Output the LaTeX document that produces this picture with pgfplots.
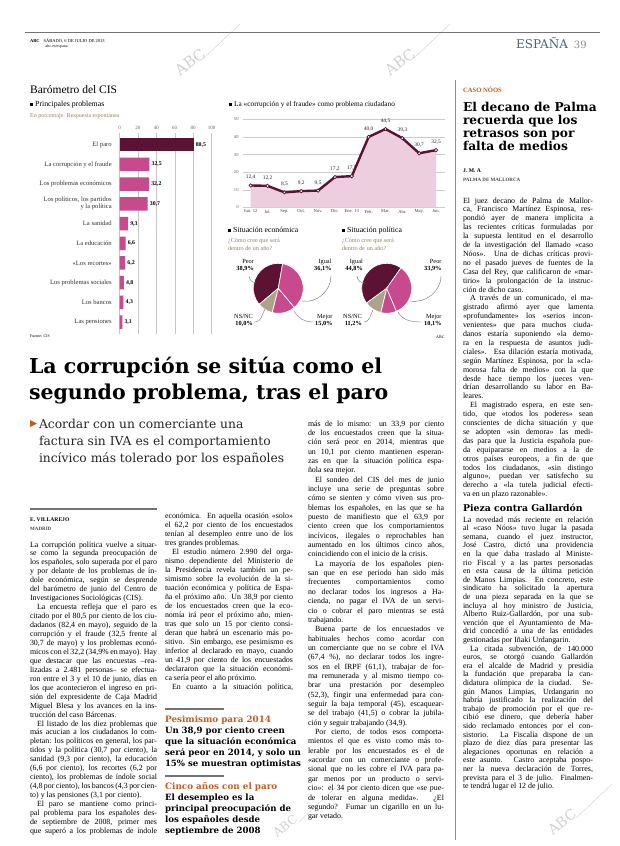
\documentclass[border=0pt]{standalone}
\usepackage{pgfplots}
\pgfplotsset{compat=1.18}
\usepackage{fontspec}
\setmainfont{Liberation Serif}
\newfontfamily\hf{DejaVu Serif}
\definecolor{maroon}{RGB}{92,18,50}
\definecolor{pinkb}{RGB}{198,74,140}
\definecolor{tanc}{RGB}{172,164,138}
\definecolor{areac}{RGB}{236,206,222}
\definecolor{subc}{RGB}{150,130,100}
\definecolor{orangec}{RGB}{196,92,32}
\definecolor{slate}{RGB}{70,100,125}
\newlength{\cw}
\newcommand{\JL}[1]{\hbox to \cw{#1}}
\newcommand{\EL}[1]{\hbox to \cw{#1\hfil}}
\newcommand{\IL}[1]{\hbox to \cw{\hskip 7pt #1}}
\newcommand{\Col}[5]{\node[anchor=base west,inner sep=0pt,outer sep=0pt] at (#1pt,-#2pt) {\setlength{\cw}{#3pt}\fontsize{7.9}{#4}\selectfont\vtop{\baselineskip=#4pt\relax #5}};}
\newcommand{\Tx}[5]{\node[anchor=base west,inner sep=0pt,outer sep=0pt] at (#1pt,-#2pt) {#3\vtop{\baselineskip=#4pt\relax #5}};}
\newcommand{\WM}[3]{\node[rotate=38,text=black!18,font=\hf\fontsize{#3}{#3}\selectfont] at (#1pt,-#2pt) {ABC};\draw[black!18,line width=0.4pt] (#1pt+14pt,-#2pt+4pt) -- (#1pt+50pt,-#2pt+38pt);}
\begin{document}
\begin{tikzpicture}
\path[use as bounding box,fill=white] (0,0) rectangle (620pt,-846pt);
% watermarks
\WM{190}{62}{15}\WM{400}{62}{15}\WM{285}{826}{12}\WM{562}{822}{14}
% header
\draw[black!55,line width=1.2pt] (25pt,-32.5pt) -- (600pt,-32.5pt);
\node[anchor=base west,inner sep=0pt] at (30pt,-42pt) {\fontsize{4.5}{5}\selectfont\bfseries ABC\hspace{4pt}\mdseries SÁBADO, 6 DE JULIO DE 2013};
\node[anchor=base west,inner sep=0pt] at (45.5pt,-47.5pt) {\fontsize{4}{5}\selectfont abc.es/espana};
\node[anchor=base west,inner sep=0pt] at (516pt,-48pt) {\hf\fontsize{12}{12}\selectfont\color{slate}ESPAÑA\hspace{6pt}\color{black!45}\fontsize{10}{10}\selectfont 39};
\draw[black!45,line width=0.6pt] (455pt,-80pt) -- (455pt,-840pt);
% chart titles
\node[anchor=base west,inner sep=0pt] at (30pt,-93pt) {\fontsize{11.5}{12}\selectfont Barómetro del CIS};
\node[anchor=base west,inner sep=0pt] at (30pt,-106pt) {\fontsize{7.8}{8}\selectfont\rule{3pt}{3pt}\hspace{2pt}Principales problemas};
\node[anchor=base west,inner sep=0pt] at (30pt,-117.5pt) {\fontsize{6}{6}\selectfont\color{subc}En porcentaje. Respuesta espontánea};
\node[anchor=base west,inner sep=0pt] at (229pt,-106pt) {\fontsize{7.3}{8}\selectfont\rule{3pt}{3pt}\hspace{2pt}La «corrupción y el fraude» como problema ciudadano};
\node[anchor=base west,inner sep=0pt] at (30pt,-337pt) {\fontsize{4}{4}\selectfont Fuente: CIS};
\node[anchor=base west,inner sep=0pt] at (436pt,-338pt) {\fontsize{4}{4}\selectfont ABC};
% bar chart
\begin{axis}[at={(119.5pt,-132.9pt)},anchor=north west,scale only axis,width=92pt,height=201pt,
 xbar,bar width=13.5pt,bar shift=0pt,xmin=0,xmax=100,ymin=-0.6,ymax=9.6,y dir=reverse,
 xtick={0,20,...,100},xticklabel pos=upper,xmajorgrids,grid style={black!22,line width=0.4pt},
 axis line style={draw=none},tick style={draw=none},
 ytick={0,...,9},yticklabels={El paro,La corrupción y el fraude,Los problemas económicos,{Los políticos, los partidos\\y la política},La sanidad,La educación,«Los recortes»,Los problemas sociales,Los bancos,Las pensiones},
 yticklabel style={align=right,font=\fontsize{6.6}{7}\selectfont,text=black!80},
 xticklabel style={font=\fontsize{5}{5}\selectfont,text=black!60},
 /pgf/number format/assume math mode=true,
 point meta=x,nodes near coords={\pgfmathprintnumber[use comma,fixed,fixed zerofill,precision=1]{\pgfplotspointmeta}},
 nodes near coords style={font=\bfseries\fontsize{5.8}{6}\selectfont,anchor=west,inner sep=2pt},clip=false]
\addplot[fill=maroon,draw=none] coordinates {(80.5,0)};
\addplot[fill=pinkb,draw=none] coordinates {(32.5,1) (32.2,2) (30.7,3) (9.3,4) (6.6,5) (6.2,6) (4.8,7) (4.3,8) (3.1,9)};
\end{axis}
% line chart
\begin{axis}[at={(243.1pt,-207.3pt)},anchor=south west,scale only axis,width=202.2pt,height=88pt,
 xmin=-0.45,xmax=11.55,ymin=0,ymax=50,ytick={0,10,...,50},ymajorgrids,grid style={black!20,line width=0.4pt},
 xtick={0,...,11},xticklabels={Jun. 12,Jul.,Sep.,Oct.,Nov.,Dic.,Ene. 13,Feb.,Mar.,Abr.,May.,Jun.},
 axis line style={draw=none},tick style={draw=none},clip=false,
 /pgf/number format/assume math mode=true,
 xticklabel style={font=\fontsize{4.6}{5}\selectfont,text=black!75,yshift=1pt},
 yticklabel style={font=\fontsize{4.6}{5}\selectfont,text=black!60,xshift=-1pt}]
\addplot[fill=areac,draw=none,forget plot] coordinates {(0,12.4) (1,12.2) (2,8.5) (3,9.2) (4,9.5) (5,17.2) (6,17.7) (7,40.0) (8,44.5) (9,39.3) (10,30.7) (11,32.5)} \closedcycle;
\addplot[maroon,line width=2.4pt,mark=*,mark size=1.7pt,mark options={fill=white,draw=maroon,line width=0.7pt},
 point meta=y,nodes near coords={\pgfmathprintnumber[use comma,fixed,fixed zerofill,precision=1]{\pgfplotspointmeta}},
 nodes near coords style={font=\fontsize{5.4}{6}\selectfont,text=black!85,anchor=south,yshift=2pt}]
 coordinates {(0,12.4) (1,12.2) (2,8.5) (3,9.2) (4,9.5) (5,17.2) (6,17.7) (7,40.0) (8,44.5) (9,39.3) (10,30.7) (11,32.5)};
\end{axis}
% pie titles
\node[anchor=base west,inner sep=0pt] at (228pt,-232pt) {\fontsize{7.8}{8}\selectfont\rule{3pt}{3pt}\hspace{2pt}Situación económica};
\Tx{228}{242}{\fontsize{6.2}{7}\selectfont\color{subc}}{8.2}{\hbox{¿Cómo cree que será}\hbox{dentro de un año?}}
\node[anchor=base west,inner sep=0pt] at (342pt,-232pt) {\fontsize{7.8}{8}\selectfont\rule{3pt}{3pt}\hspace{2pt}Situación política};
\Tx{342}{242}{\fontsize{6.2}{7}\selectfont\color{subc}}{8.2}{\hbox{¿Cómo cree que será}\hbox{dentro de un año?}}
% pies
\begin{axis}[at={(278.3pt,-288.3pt)},anchor=center,scale only axis,width=50pt,height=50pt,xmin=-1,xmax=1,ymin=-1,ymax=1,hide axis]
\addplot[draw=none] coordinates {(0,0)};
\pgfplotsextra{
\xdef\curang{80}
\foreach \v/\c in {38.9/maroon,10.0/tanc,15.0/pinkb,36.1/pinkb}{
 \pgfmathsetmacro\endang{\curang+3.6*\v}
 \fill[\c,draw=white,line width=0.7pt] (axis cs:0,0) -- ++(\curang:25pt) arc[start angle=\curang,end angle=\endang,radius=25pt] -- cycle;
 \xdef\curang{\endang}
}}
\end{axis}
\begin{axis}[at={(386.7pt,-288.3pt)},anchor=center,scale only axis,width=50pt,height=50pt,xmin=-1,xmax=1,ymin=-1,ymax=1,hide axis]
\addplot[draw=none] coordinates {(0,0)};
\pgfplotsextra{
\xdef\curang{55}
\foreach \v/\c in {44.8/maroon,11.2/tanc,10.1/pinkb,33.9/pinkb}{
 \pgfmathsetmacro\endang{\curang+3.6*\v}
 \fill[\c,draw=white,line width=0.7pt] (axis cs:0,0) -- ++(\curang:25pt) arc[start angle=\curang,end angle=\endang,radius=25pt] -- cycle;
 \xdef\curang{\endang}
}}
\end{axis}
% pie labels
\tikzset{pl/.style={inner sep=0pt,font=\fontsize{6.3}{7.4}\selectfont}}
\node[pl,anchor=north east,align=right] at (254pt,-259pt) {Peor\\\textbf{38,9\%}};
\node[pl,anchor=north west,align=right] at (314pt,-259pt) {Igual\\\textbf{36,1\%}};
\node[pl,anchor=north east,align=right] at (253pt,-314pt) {NS/NC\\\textbf{10,0\%}};
\node[pl,anchor=north west,align=right] at (315pt,-314pt) {Mejor\\\textbf{15,0\%}};
\node[pl,anchor=north east,align=right] at (363pt,-259pt) {Igual\\\textbf{44,8\%}};
\node[pl,anchor=north west,align=right] at (424pt,-259pt) {Peor\\\textbf{33,9\%}};
\node[pl,anchor=north east,align=right] at (362pt,-314pt) {NS/NC\\\textbf{11,2\%}};
\node[pl,anchor=north west,align=right] at (424pt,-314pt) {Mejor\\\textbf{10,1\%}};
\begin{scope}[black!55,line width=0.4pt]
\draw (249pt,-276pt) to[out=-90,in=170] (256pt,-283pt);
\draw (331pt,-276pt) to[out=-90,in=-10] (302pt,-301pt);
\draw (313pt,-322pt) to[out=180,in=-60] (294pt,-311pt);
\draw (255pt,-322pt) to[out=0,in=-120] (265pt,-309pt);
\draw (357pt,-276pt) to[out=-90,in=190] (366pt,-283pt);
\draw (441pt,-276pt) to[out=-90,in=-10] (410pt,-301pt);
\draw (422pt,-322pt) to[out=180,in=-60] (398pt,-312pt);
\draw (364pt,-322pt) to[out=0,in=-120] (373pt,-310pt);
\end{scope}
% headline
\Tx{29}{373}{\hf\bfseries\fontsize{20.5}{26}\selectfont}{26}{\hbox{La corrupción se sitúa como el}\hbox{segundo problema, tras el paro}}
\fill[orangec] (30pt,-420pt) -- (37pt,-423.5pt) -- (30pt,-427pt) -- cycle;
\Tx{39}{428}{\hf\fontsize{12.3}{17}\selectfont\color{black!85}}{17}{\hbox{Acordar con un comerciante una}\hbox{factura sin IVA es el comportamiento}\hbox{incívico más tolerado por los españoles}}
% byline
\draw[black!55,line width=1.5pt] (30pt,-509pt) -- (157pt,-509pt);
\node[anchor=base west,inner sep=0pt] at (30pt,-521pt) {\fontsize{5.6}{6}\selectfont\bfseries E. VILLAREJO};
\node[anchor=base west,inner sep=0pt] at (30pt,-530pt) {\fontsize{5}{6}\selectfont\bfseries\color{black!70}MADRID};
% column 1
\Col{30}{547}{127}{8.95}{%
\JL{La corrupción política vuelve a situar-}
\JL{se como la segunda preocupación de}
\JL{los españoles, solo superada por el paro}
\JL{y por delante de los problemas de ín-}
\JL{dole económica, según se desprende}
\JL{del barómetro de junio del Centro de}
\EL{Investigaciones Sociológicas (CIS).}
\IL{La encuesta refleja que el paro es}
\JL{citado por el 80,5 por ciento de los ciu-}
\JL{dadanos (82,4 en mayo), seguido de la}
\JL{corrupción y el fraude (32,5 frente al}
\JL{30,7 de mayo) y los problemas econó-}
\JL{micos con el 32,2 (34,9\% en mayo). Hay}
\JL{que destacar que las encuestas –rea-}
\JL{lizadas a 2.481 personas– se efectua-}
\JL{ron entre el 3 y el 10 de junio, días en}
\JL{los que acontecieron el ingreso en pri-}
\JL{sión del expresidente de Caja Madrid}
\JL{Miguel Blesa y los avances en la ins-}
\EL{trucción del caso Bárcenas.}
\IL{El listado de los diez problemas que}
\JL{más acucian a los ciudadanos lo com-}
\JL{pletan: los políticos en general, los par-}
\JL{tidos y la política (30,7 por ciento), la}
\JL{sanidad (9,3 por ciento), la educación}
\JL{(6,6 por ciento), los recortes (6,2 por}
\JL{ciento), los problemas de índole social}
\JL{(4,8 por ciento), los bancos (4,3 por cien-}
\EL{to) y las pensiones (3,1 por ciento).}
\IL{El paro se mantiene como princi-}
\JL{pal problema para los españoles des-}
\JL{de septiembre de 2008, primer mes}
\JL{que superó a los problemas de índole}}
% column 2
\Col{165}{518}{128}{9}{%
\JL{económica. En aquella ocasión «solo»}
\JL{el 62,2 por ciento de los encuestados}
\JL{tenían al desempleo entre uno de los}
\EL{tres grandes problemas.}
\IL{El estudio número 2.990 del orga-}
\JL{nismo dependiente del Ministerio de}
\JL{la Presidencia revela también un pe-}
\JL{simismo sobre la evolución de la si-}
\JL{tuación económica y política de Espa-}
\JL{ña el próximo año. Un 38,9 por ciento}
\JL{de los encuestados creen que la eco-}
\JL{nomía irá peor el próximo año, mien-}
\JL{tras que solo un 15 por ciento consi-}
\JL{deran que habrá un escenario más po-}
\JL{sitivo. Sin embargo, ese pesimismo es}
\JL{inferior al declarado en mayo, cuando}
\JL{un 41,9 por ciento de los encuestados}
\JL{declararon que la situación económi-}
\EL{ca sería peor el año próximo.}
\IL{En cuanto a la situación política,}}
\draw[black!55,line width=1.2pt] (165pt,-709pt) -- (224pt,-709pt);
\node[anchor=base west,inner sep=0pt] at (165pt,-722pt) {\hf\bfseries\fontsize{8.8}{9}\selectfont\color{orangec}Pesimismo para 2014};
\Tx{165}{733.5}{\hf\bfseries\fontsize{8.6}{11}\selectfont}{11}{\hbox{Un 38,9 por ciento creen}\hbox{que la situación económica}\hbox{será peor en 2014, y solo un}\hbox{15\% se muestran optimistas}}
\draw[black!55,line width=1.2pt] (165pt,-776pt) -- (224pt,-776pt);
\node[anchor=base west,inner sep=0pt] at (165pt,-789pt) {\hf\bfseries\fontsize{8.8}{9}\selectfont\color{orangec}Cinco años con el paro};
\Tx{165}{800.5}{\hf\bfseries\fontsize{8.6}{11}\selectfont}{11}{\hbox{El desempleo es la}\hbox{principal preocupación de}\hbox{los españoles desde}\hbox{septiembre de 2008}}
% column 3
\Col{308}{426}{136}{9.35}{%
\JL{más de lo mismo: un 33,9 por ciento}
\JL{de los encuestados creen que la situa-}
\JL{ción será peor en 2014, mientras que}
\JL{un 10,1 por ciento mantienen esperan-}
\JL{zas en que la situación política espa-}
\EL{ñola sea mejor.}
\IL{El sondeo del CIS del mes de junio}
\JL{incluye una serie de preguntas sobre}
\JL{cómo se sienten y cómo viven sus pro-}
\JL{blemas los españoles, en las que se ha}
\JL{puesto de manifiesto que el 63,9 por}
\JL{ciento creen que los comportamientos}
\JL{incívicos, ilegales o reprochables han}
\JL{aumentado en los últimos cinco años,}
\EL{coincidiendo con el inicio de la crisis.}
\IL{La mayoría de los españoles pien-}
\JL{san que en ese periodo han sido más}
\JL{frecuentes comportamientos como}
\JL{no declarar todos los ingresos a Ha-}
\JL{cienda, no pagar el IVA de un servi-}
\JL{cio o cobrar el paro mientras se está}
\EL{trabajando.}
\IL{Buena parte de los encuestados ve}
\JL{habituales hechos como acordar con}
\JL{un comerciante que no se cobre el IVA}
\JL{(67,4 \%), no declarar todos los ingre-}
\JL{sos en el IRPF (61,1), trabajar de for-}
\JL{ma remunerada y al mismo tiempo co-}
\JL{brar una prestación por desempleo}
\JL{(52,3), fingir una enfermedad para con-}
\JL{seguir la baja temporal (45), escaquear-}
\JL{se del trabajo (41,5) o cobrar la jubila-}
\EL{ción y seguir trabajando (34,9).}
\IL{Por cierto, de todos esos comporta-}
\JL{mientos el que es visto como más to-}
\JL{lerable por los encuestados es el de}
\JL{«acordar con un comerciante o profe-}
\JL{sional que no les cobre el IVA para pa-}
\JL{gar menos por un producto o servi-}
\JL{cio»: el 34 por ciento dicen que «se pue-}
\JL{de tolerar en alguna medida». ¿El}
\JL{segundo? Fumar un cigarillo en un lu-}
\EL{gar vetado.}}
% right column
\node[anchor=base west,inner sep=0pt] at (463pt,-92pt) {\fontsize{6.6}{7}\selectfont\bfseries\color{orangec}CASO NÓOS};
\Tx{463}{111}{\hf\bfseries\fontsize{12.2}{13}\selectfont}{13}{\hbox{El decano de Palma}\hbox{recuerda que los}\hbox{retrasos son por}\hbox{falta de medios}}
\node[anchor=base west,inner sep=0pt] at (463pt,-172pt) {\fontsize{5.6}{6}\selectfont\bfseries J. M. A};
\node[anchor=base west,inner sep=0pt] at (463pt,-181pt) {\fontsize{5}{6}\selectfont\bfseries\color{black!70}PALMA DE MALLORCA};
\Col{463}{203}{130}{8.9}{%
\JL{El juez decano de Palma de Mallor-}
\JL{ca, Francisco Martínez Espinosa, res-}
\JL{pondió ayer de manera implícita a}
\JL{las recientes críticas formuladas por}
\JL{la supuesta lentitud en el desarrollo}
\JL{de la investigación del llamado «caso}
\JL{Nóos». Una de dichas críticas provi-}
\JL{no el pasado jueves de fuentes de la}
\JL{Casa del Rey, que calificaron de «mar-}
\JL{tirio» la prolongación de la instruc-}
\EL{ción de dicho caso.}
\IL{A través de un comunicado, el ma-}
\JL{gistrado afirmó ayer que lamenta}
\JL{«profundamente» los «serios incon-}
\JL{venientes» que para muchos ciuda-}
\JL{danos estaría suponiendo «la demo-}
\JL{ra en la respuesta de asuntos judi-}
\JL{ciales». Esa dilación estaría motivada,}
\JL{según Martínez Espinosa, por la «cla-}
\JL{morosa falta de medios» con la que}
\JL{desde hace tiempo los jueces ven-}
\JL{drían desarrollando su labor en Ba-}
\EL{leares.}
\IL{El magistrado espera, en este sen-}
\JL{tido, que «todos los poderes» sean}
\JL{conscientes de dicha situación y que}
\JL{se adopten «sin demora» las medi-}
\JL{das para que la Justicia española pue-}
\JL{da equipararse en medios a la de}
\JL{otros países europeos, a fin de que}
\JL{todos los ciudadanos, «sin distingo}
\JL{alguno», puedan ver satisfecho su}
\JL{derecho a «la tutela judicial efecti-}
\EL{va en un plazo razonable».}}
\node[anchor=base west,inner sep=0pt] at (463pt,-511pt) {\hf\bfseries\fontsize{9.3}{10}\selectfont Pieza contra Gallardón};
\Col{463}{522}{130}{8.6}{%
\JL{La novedad más reciente en relación}
\JL{al «caso Nóos» tuvo lugar la pasada}
\JL{semana, cuando el juez instructor,}
\JL{José Castro, dictó una providencia}
\JL{en la que daba traslado al Ministe-}
\JL{rio Fiscal y a las partes personadas}
\JL{en esta causa de la última petición}
\JL{de Manos Limpias. En concreto, este}
\JL{sindicato ha solicitado la apertura}
\JL{de una pieza separada en la que se}
\JL{incluya al hoy ministro de Justicia,}
\JL{Alberto Ruiz-Gallardón, por una sub-}
\JL{vención que el Ayuntamiento de Ma-}
\JL{drid concedió a una de las entidades}
\EL{gestionadas por Iñaki Urdangarin.}
\IL{La citada subvención, de 140.000}
\JL{euros, se otorgó cuando Gallardón}
\JL{era el alcalde de Madrid y presidía}
\JL{la fundación que preparaba la can-}
\JL{didatura olímpica de la ciudad. Se-}
\JL{gún Manos Limpias, Urdangarin no}
\JL{habría justificado la realización del}
\JL{trabajo de promoción por el que re-}
\JL{cibió ese dinero, que debería haber}
\JL{sido reclamado entonces por el con-}
\JL{sistorio. La Fiscalía dispone de un}
\JL{plazo de diez días para presentar las}
\JL{alegaciones oportunas en relación a}
\JL{este asunto. Castro aceptaba pospo-}
\JL{ner la nueva declaración de Torres,}
\JL{prevista para el 3 de julio. Finalmen-}
\EL{te tendrá lugar el 12 de julio.}}
\end{tikzpicture}
\end{document}
